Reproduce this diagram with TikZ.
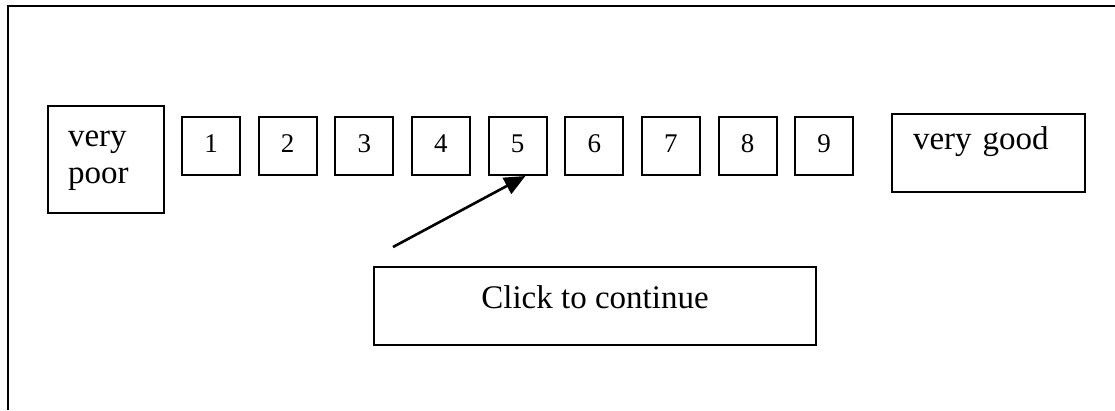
\documentclass[tikz,border=0pt]{standalone}
\usepackage{fontspec}
\setmainfont{Liberation Serif}
\usetikzlibrary{arrows.meta,calc}
\begin{document}
\begin{tikzpicture}[x=1pt,y=-1pt,
  box/.style={draw,line width=2pt,inner sep=0pt,font=\fontsize{33}{37}\selectfont},
  numbox/.style={draw,line width=2pt,inner sep=0pt,minimum width=58pt,minimum height=58pt,text height=19pt,text depth=7pt,font=\fontsize{27}{32}\selectfont},
  pointer/.style={line width=2.6pt,-{Triangle[length=21pt,width=18pt]}}]
\useasboundingbox (0,0) rectangle (1115,410);
\draw[line width=2pt] (8,410) -- (8,6) -- (1115,6);
\node[box,anchor=north west,inner xsep=20pt,text width=76pt,align=left,text height=40pt,text depth=67pt] (poor) at (47,105) {very\\poor};
\foreach \i in {1,...,9}
  \node[numbox] (n\i) at ({211+76.65*(\i-1)},146) {\i};
\node[box,anchor=north west,inner xsep=21pt,text width=151pt,align=left,text height=35pt,text depth=43pt] (good) at (891,113) {very good};
\node[box,anchor=north west,minimum width=442pt,text height=41pt,text depth=37pt] (click) at (373,266) {Click to continue\hspace{10pt}};
\coordinate (tail) at (393,247);
\draw[pointer] (tail) -- ($(n5.south west)!0.63!(n5.south east)$);
\end{tikzpicture}
\end{document}
